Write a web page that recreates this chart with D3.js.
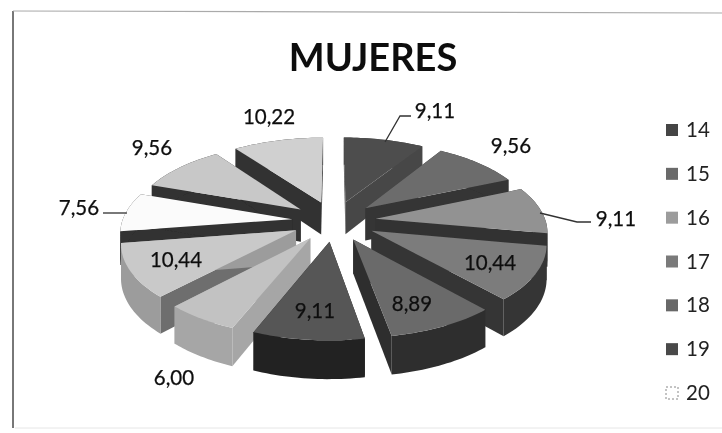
<!DOCTYPE html>
<html><head><meta charset="utf-8">
<script src="https://cdn.jsdelivr.net/npm/d3@7"></script>
<style>html,body{margin:0;background:#fff}svg{display:block}text{font-family:Lato,"Open Sans",sans-serif;fill:#222}</style>
</head><body><svg id="c" width="722" height="433"></svg>
<script>
const title = "MUJERES";
const categories = ["14","15","16","17","18","19","20","21","22","23","24"];
const values = [9.11,9.56,9.11,10.44,8.89,9.11,6.00,10.44,7.56,9.56,10.22];
const valueLabels = ["9,11","9,56","9,11","10,44","8,89","9,11","6,00","10,44","7,56","9,56","10,22"];
const legendCategories = ["14","15","16","17","18","19","20"];
const topColors = ["#4e4e4e","#6c6c6c","#929292","#7c7c7c","#6a6a6a","#565656","#c2c2c2","#c9c9c9","#fbfbfb","#c8c8c8","#d0d0d0"];
const wallColors = ["#474747","#343434","#333333","#353535","#2f2f2f","#242424","#a6a6a6","#9c9c9c","#303030","#303030","#333333"];
const startWallColors = ["#4e4e4e","#343434","#333333","#353535","#2f2f2f","#242424","#a6a6a6","#6e6e6e","#303030","#303030","#333333"];
const legendColors = ["#454545","#6a6a6a","#9c9c9c","#7a7a7a","#686868","#4a4a4a","#ffffff"];

const svg = d3.select("#c");
const W = 722;
const defs = svg.append("defs");
defs.append("filter").attr("id","scan").append("feGaussianBlur").attr("stdDeviation",0.55);
const root = svg.append("g").attr("filter","url(#scan)");

// frame
root.append("path").attr("d","M13,428V11").attr("fill","none").attr("stroke","#555").attr("stroke-width",1.6);
root.append("path").attr("d",`M13,11L${W},13`).attr("fill","none").attr("stroke","#aaa").attr("stroke-width",1.2);
root.append("path").attr("d",`M15,428H${W}`).attr("fill","none").attr("stroke","#e6e6e6").attr("stroke-width",1);

// projection of the exploded pie
const cx = 334, cy = 221, R = 170, explode = 42, tilt = 0.48, persp = 0.14, depth = 33;
function proj(a, r, o, dz){
  const ox = o*Math.sin(a.mid), oy = -o*Math.cos(a.mid);
  const px = r*Math.sin(a.t)+ox, py = -r*Math.cos(a.t)+oy;
  const s = 1 + persp*py/R;
  return [cx+px*s, cy+py*tilt*s+(dz||0)*s];
}
const pie = d3.pie().sort(null).value(d=>d);
const arcs = pie(values).map((d,i)=>({i,start:d.startAngle,end:d.endAngle,mid:(d.startAngle+d.endAngle)/2}));
const line = d3.line();
function arcPts(d,dz){
  return d3.range(0,25).map(k=>{
    const t=d.start+(d.end-d.start)*k/24;
    return proj({t,mid:d.mid},R,explode,dz);
  });
}
function apex(d,dz){return proj({t:d.mid,mid:d.mid},0,explode,dz);}
const order = arcs.slice().sort((a,b)=>(-Math.cos(a.mid))-(-Math.cos(b.mid)));
const g = root.append("g");
order.forEach(d=>{
  const top = arcPts(d,0), bot = arcPts(d,depth), A=apex(d,0), B=apex(d,depth);
  const n = top.length-1;
  g.append("path").attr("d",line([A,top[0],bot[0],B])+"Z").attr("fill",startWallColors[d.i]);
  g.append("path").attr("d",line([A,top[n],bot[n],B])+"Z").attr("fill",wallColors[d.i]);
  g.append("path").attr("d",line(top.concat(bot.slice().reverse()))+"Z").attr("fill",wallColors[d.i]);
  g.append("path").attr("d",line([A,...top])+"Z").attr("fill",topColors[d.i]);
});

// title
root.append("text").attr("x",373).attr("y",71).attr("text-anchor","middle")
  .attr("font-size",38).attr("font-weight",700).style("fill","#111").text(title);

// value labels
const labelPos = [[435,118],[511,153],[616,226],[490,270],[412,311],[315,318],[174,385],[176,267],[79,215],[152,155],[269,124]];
valueLabels.forEach((t,i)=>{
  root.append("text").attr("x",labelPos[i][0]).attr("y",labelPos[i][1]).attr("text-anchor","middle")
    .attr("font-size",20.5).style("fill","#111").attr("stroke","#111").attr("stroke-width",0.25).text(t);
});

// leader lines
[[[385,142],[400,116],[411,116]],[[540,213],[577,222],[591,222]],[[103,213],[127,213]]].forEach(p=>{
  root.append("path").attr("d",line(p)).attr("fill","none").attr("stroke","#333").attr("stroke-width",1.3);
});

// legend
const legendY = d3.scalePoint().domain(legendCategories).range([130,393]);
legendCategories.forEach((c,k)=>{
  const y = legendY(c), last = k===legendCategories.length-1;
  root.append("rect").attr("x",666).attr("y",y-6).attr("width",12).attr("height",12)
    .attr("fill",legendColors[k])
    .attr("stroke",last?"#888":"none").attr("stroke-dasharray",last?"2 2":null);
  root.append("text").attr("x",686).attr("y",y+7).attr("font-size",20.5).style("fill","#222").text(c);
});
</script></body></html>
